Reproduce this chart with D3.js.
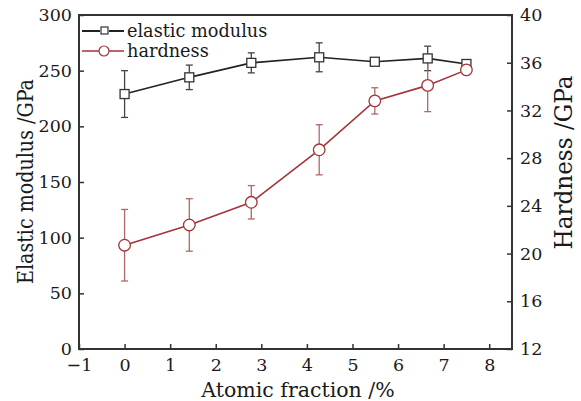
<!DOCTYPE html>
<html>
<head>
<meta charset="utf-8">
<script src="https://cdn.jsdelivr.net/npm/d3@7"></script>
<style>
  body { margin: 0; background: #fff; }
  text { font-family: "DejaVu Serif", serif; fill: #1a1a1a; }
</style>
</head>
<body>
<svg></svg>
<script>
let width = 581, height = 401;
let margin = {top: 15, right: 69, bottom: 52, left: 79};

// data
let fraction = [0, 1.42, 2.78, 4.27, 5.49, 6.65, 7.5];
let modulus = [229, 244, 257, 262, 258, 261, 256];
let modulusErr = [21, 11, 9, 13, 3, 11, 3];
let hardness = [20.7, 22.4, 24.3, 28.7, 32.8, 34.1, 35.4];
let hardnessErr = [3.0, 2.2, 1.4, 2.1, 1.1, 2.2, 0.3];

let xTicks = [-1, 0, 1, 2, 3, 4, 5, 6, 7, 8];
let yLeftTicks = [0, 50, 100, 150, 200, 250, 300];
let yRightTicks = [12, 16, 20, 24, 28, 32, 36, 40];

let black = "#222", red = "#a3353a", redErr = "#b0676a";

let svg = d3.select("svg")
    .attr("width", width)
    .attr("height", height);

let x = d3.scaleLinear().domain([-1, 8.5]).range([margin.left, width - margin.right]);
let yL = d3.scaleLinear().domain([0, 300]).range([height - margin.bottom, margin.top]);
let yR = d3.scaleLinear().domain([12, 40]).range([height - margin.bottom, margin.top]);

//Axes (ticks pointing inwards)
svg.append("g")
    .attr("transform", `translate(0,${height - margin.bottom})`)
    .call(d3.axisBottom(x).tickValues(xTicks).tickSizeInner(-5).tickSizeOuter(0).tickPadding(10)
        .tickFormat(d => d < 0 ? "\u2212" + Math.abs(d) : d))
    .call(g => g.select(".domain").remove());

svg.append("g")
    .attr("transform", `translate(${margin.left},0)`)
    .call(d3.axisLeft(yL).tickValues(yLeftTicks).tickSizeInner(-5).tickSizeOuter(0).tickPadding(7))
    .call(g => g.select(".domain").remove());

svg.append("g")
    .attr("transform", `translate(${width - margin.right},0)`)
    .call(d3.axisRight(yR).tickValues(yRightTicks).tickSizeInner(-5).tickSizeOuter(0).tickPadding(8))
    .call(g => g.select(".domain").remove());

svg.selectAll(".tick text").style("font-size", "17.5px").style("font-family", "DejaVu Serif").attr("fill", "#1a1a1a");
svg.selectAll(".tick line").attr("stroke", "#333").attr("stroke-width", 1.5);

//frame
svg.append("rect")
    .attr("x", margin.left)
    .attr("y", margin.top)
    .attr("width", width - margin.left - margin.right)
    .attr("height", height - margin.top - margin.bottom)
    .attr("fill", "none")
    .attr("stroke", "#333")
    .attr("stroke-width", 2);

//axis titles
svg.append("text")
    .attr("x", 298)
    .attr("y", 397)
    .attr("text-anchor", "middle")
    .style("font-size", "20.5px")
    .text("Atomic fraction /%");

svg.append("text")
    .attr("transform", "translate(33,181.5) rotate(-90)")
    .attr("text-anchor", "middle")
    .attr("textLength", 205)
    .attr("lengthAdjust", "spacingAndGlyphs")
    .style("font-size", "23px")
    .text("Elastic modulus /GPa");

svg.append("text")
    .attr("transform", "translate(572,162.5) rotate(-90)")
    .attr("text-anchor", "middle")
    .attr("textLength", 174)
    .attr("lengthAdjust", "spacingAndGlyphs")
    .style("font-size", "24px")
    .text("Hardness /GPa");

//series
let mod = fraction.map((f, i) => ({x: f, y: modulus[i], e: modulusErr[i]}));
let hard = fraction.map((f, i) => ({x: f, y: hardness[i], e: hardnessErr[i]}));

function errorBars(data, y, color) {
    let g = svg.append("g").attr("stroke", color).attr("stroke-width", 1.3);
    data.forEach(d => {
        g.append("line").attr("x1", x(d.x)).attr("x2", x(d.x)).attr("y1", y(d.y - d.e)).attr("y2", y(d.y + d.e));
        g.append("line").attr("x1", x(d.x) - 3.5).attr("x2", x(d.x) + 3.5).attr("y1", y(d.y - d.e)).attr("y2", y(d.y - d.e));
        g.append("line").attr("x1", x(d.x) - 3.5).attr("x2", x(d.x) + 3.5).attr("y1", y(d.y + d.e)).attr("y2", y(d.y + d.e));
    });
}

errorBars(mod, yL, "#444");
errorBars(hard, yR, redErr);

svg.append("path")
    .datum(mod)
    .attr("fill", "none")
    .attr("stroke", black)
    .attr("stroke-width", 1.6)
    .attr("d", d3.line().x(d => x(d.x)).y(d => yL(d.y)));

svg.append("path")
    .datum(hard)
    .attr("fill", "none")
    .attr("stroke", red)
    .attr("stroke-width", 1.6)
    .attr("d", d3.line().x(d => x(d.x)).y(d => yR(d.y)));

svg.append("g")
    .selectAll("rect")
    .data(mod)
    .enter()
    .append("rect")
    .attr("x", d => x(d.x) - 4.5)
    .attr("y", d => yL(d.y) - 4.5)
    .attr("width", 9)
    .attr("height", 9)
    .attr("fill", "#fff")
    .attr("stroke", "#333")
    .attr("stroke-width", 1.3);

svg.append("g")
    .selectAll("circle")
    .data(hard)
    .enter()
    .append("circle")
    .attr("cx", d => x(d.x))
    .attr("cy", d => yR(d.y))
    .attr("r", 5.8)
    .attr("fill", "#fff")
    .attr("stroke", red)
    .attr("stroke-width", 1.3);

//Legend
let legend = svg.append("g");
legend.append("line").attr("x1", 82).attr("x2", 100).attr("y1", 31).attr("y2", 31).attr("stroke", black).attr("stroke-width", 2);
legend.append("line").attr("x1", 109).attr("x2", 124).attr("y1", 31).attr("y2", 31).attr("stroke", black).attr("stroke-width", 2);
legend.append("rect").attr("x", 101).attr("y", 27).attr("width", 7).attr("height", 7)
    .attr("fill", "#fff").attr("stroke", "#333").attr("stroke-width", 1.2);
legend.append("text").attr("x", 127).attr("y", 31).attr("dy", "0.35em").style("font-size", "17.7px").text("elastic modulus");

legend.append("line").attr("x1", 82).attr("x2", 124).attr("y1", 51).attr("y2", 51).attr("stroke", red).attr("stroke-width", 1.3);
legend.append("circle").attr("cx", 104).attr("cy", 51).attr("r", 5)
    .attr("fill", "#fff").attr("stroke", red).attr("stroke-width", 1.2);
legend.append("text").attr("x", 127).attr("y", 51).attr("dy", "0.35em").style("font-size", "17.7px").text("hardness");
</script>
</body>
</html>
